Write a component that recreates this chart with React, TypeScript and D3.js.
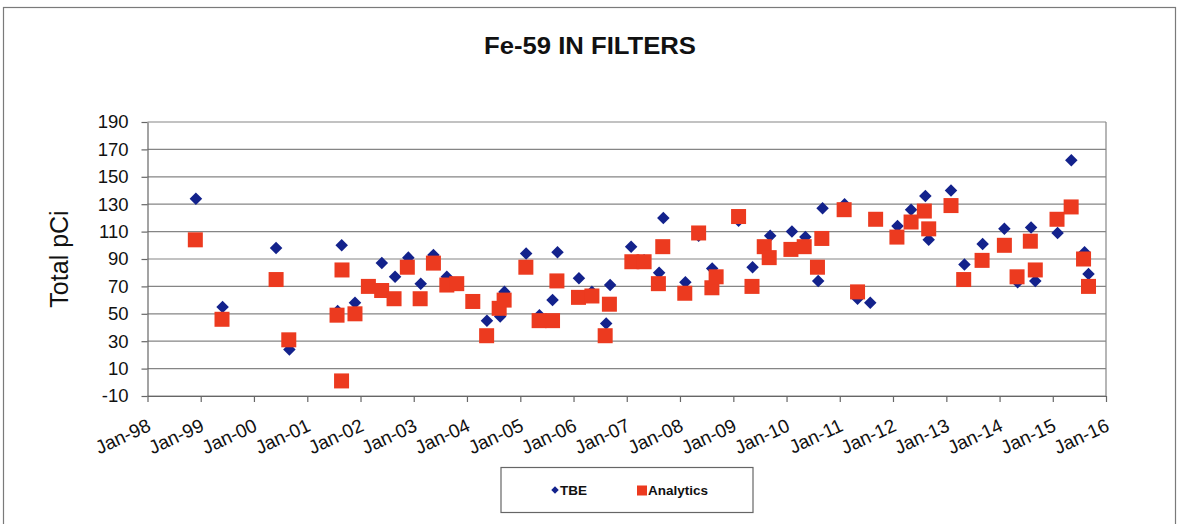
import { useEffect, useRef } from "react";
import * as d3 from "d3";

const tbeDates = [
  "1998-11-29", "1999-05-31", "2000-06-01", "2000-08-31", "2001-07-28", "2001-08-25",
  "2001-11-24", "2002-05-27", "2002-08-26", "2002-11-25", "2003-02-18", "2003-05-16",
  "2003-08-16", "2004-05-17", "2004-08-16", "2004-09-14", "2005-02-10", "2005-05-12",
  "2005-08-10", "2005-09-13", "2006-02-07", "2006-05-07", "2006-08-13", "2006-09-09",
  "2007-01-31", "2007-04-30", "2007-08-11", "2007-09-09", "2008-02-07", "2008-05-08",
  "2008-08-09", "2009-02-06", "2009-05-13", "2009-09-11", "2010-02-07", "2010-05-10",
  "2010-08-06", "2010-09-05", "2011-02-03", "2011-05-03", "2011-07-29", "2012-02-01",
  "2012-05-04", "2012-08-10", "2012-09-02", "2013-02-02", "2013-05-05", "2013-09-07",
  "2014-02-03", "2014-05-05", "2014-08-05", "2014-09-03", "2015-02-03", "2015-05-08",
  "2015-08-07", "2015-09-03",
];
const tbeValues = [
  134, 55, 98, 24, 52, 100,
  58, 87, 77, 91, 72, 93,
  77, 45, 48, 66, 94, 49,
  60, 95, 76, 66, 43, 71,
  99, 89, 80, 120, 73, 107,
  83, 118, 84, 107, 110, 106,
  74, 127, 130, 61, 58, 114,
  126, 136, 104, 140, 86, 101,
  112, 73, 113, 74, 109, 162,
  95, 79,
];

const analyticsDates = [
  "1998-11-25", "1999-05-27", "2000-06-01", "2000-08-27", "2001-07-24", "2001-08-27",
  "2001-08-24", "2001-11-24", "2002-02-24", "2002-05-26", "2002-08-19", "2002-11-18",
  "2003-02-14", "2003-05-16", "2003-08-16", "2003-10-23", "2004-02-10", "2004-05-15",
  "2004-08-09", "2004-09-12", "2005-02-08", "2005-05-10", "2005-08-10", "2005-09-09",
  "2006-02-04", "2006-05-07", "2006-08-06", "2006-09-04", "2007-02-05", "2007-04-30",
  "2007-08-06", "2007-09-05", "2008-02-03", "2008-05-08", "2008-08-07", "2008-09-05",
  "2009-02-06", "2009-05-09", "2009-08-01", "2009-09-04", "2010-01-31", "2010-05-02",
  "2010-08-01", "2010-08-31", "2011-01-31", "2011-05-03", "2011-09-04", "2012-01-28",
  "2012-05-04", "2012-08-03", "2012-09-02", "2013-02-02", "2013-04-30", "2013-09-03",
  "2014-02-03", "2014-05-01", "2014-07-31", "2014-09-03", "2015-01-30", "2015-05-07",
  "2015-07-31", "2015-09-03",
];
const analyticsValues = [
  104, 46, 75, 31, 49, 82,
  1, 50, 70, 67, 61, 84,
  61, 87, 71, 72, 59, 34,
  54, 60, 84, 45, 45, 74,
  62, 63, 34, 57, 88, 88,
  72, 99, 65, 109, 69, 77,
  121, 70, 99, 91, 97, 99,
  84, 105, 126, 66, 119, 106,
  117, 125, 112, 129, 75, 89,
  100, 77, 103, 82, 119, 128,
  90, 70,
];

const yTicks = [-10, 10, 30, 50, 70, 90, 110, 130, 150, 170, 190];
const xTickYears = d3.range(1998, 2017);

const W = 1178;
const H = 524;
const font = "Arial, 'Liberation Sans', sans-serif";

export default function App() {
  const ref = useRef<SVGSVGElement>(null);

  useEffect(() => {
    if (!ref.current) return;
    const svg = d3.select(ref.current);
    svg.selectAll("*").remove();

    const left = 147.5, right = 1106, top = 122, bottom = 396;
    const parse = d3.timeParse("%Y-%m-%d");

    const x = d3
      .scaleTime()
      .domain([new Date(1998, 0, 1), new Date(2016, 0, 1)])
      .range([left, right]);
    const y = d3.scaleLinear().domain([-10, 190]).range([bottom, top]);

    // outer frame
    svg.append("rect")
      .attr("x", 3.5).attr("y", 7.5)
      .attr("width", 1172).attr("height", 600)
      .attr("fill", "white").attr("stroke", "#7a7a7a").attr("stroke-width", 1.2);

    // title
    svg.append("text")
      .attr("x", 590).attr("y", 54)
      .attr("text-anchor", "middle")
      .attr("font-family", font).attr("font-weight", "bold").attr("font-size", 23)
      .attr("textLength", 212).attr("lengthAdjust", "spacingAndGlyphs")
      .attr("fill", "#111")
      .text("Fe-59 IN FILTERS");

    // gridlines
    svg.append("g")
      .selectAll("line")
      .data(yTicks)
      .join("line")
      .attr("x1", left).attr("x2", right)
      .attr("y1", (d) => y(d)).attr("y2", (d) => y(d))
      .attr("stroke", "#858585").attr("stroke-width", 1.2);

    // plot border right
    svg.append("line")
      .attr("x1", right).attr("x2", right).attr("y1", top).attr("y2", bottom)
      .attr("stroke", "#858585").attr("stroke-width", 1.2);

    // y axis
    const yAxis = svg.append("g")
      .attr("transform", `translate(${left},0)`)
      .call(
        d3.axisLeft(y)
          .tickValues(yTicks)
          .tickFormat((d) => String(d))
          .tickSize(6).tickPadding(13).tickSizeOuter(0)
      );
    yAxis.select(".domain").attr("stroke", "#666").attr("stroke-width", 1.2);
    yAxis.selectAll(".tick line").attr("stroke", "#666").attr("stroke-width", 1.2);
    yAxis.selectAll("text")
      .attr("font-family", font).attr("font-size", 18.5).attr("fill", "#111");

    // x axis
    const xAxis = svg.append("g")
      .attr("transform", `translate(0,${bottom})`)
      .call(
        d3.axisBottom(x)
          .tickValues(xTickYears.map((yr) => new Date(yr, 0, 1)))
          .tickFormat((d) => d3.timeFormat("Jan-%y")(d as Date))
          .tickSize(6).tickSizeOuter(0)
      );
    xAxis.select(".domain").attr("stroke", "#666").attr("stroke-width", 1.2);
    xAxis.selectAll(".tick line").attr("stroke", "#666").attr("stroke-width", 1.2);
    xAxis.selectAll("text")
      .attr("font-family", font).attr("font-size", 19).attr("fill", "#111")
      .attr("text-anchor", "end")
      .attr("dy", null)
      .attr("y", 0)
      .attr("transform", "translate(4,34) rotate(-25)");

    // y label
    svg.append("text")
      .attr("transform", `translate(68,${(top + bottom) / 2}) rotate(-90)`)
      .attr("text-anchor", "middle")
      .attr("font-family", font).attr("font-size", 25).attr("fill", "#111")
      .text("Total pCi");

    // TBE diamonds
    const diamond = d3.symbol().type(d3.symbolDiamond2).size(100);
    svg.append("g")
      .selectAll("path")
      .data(tbeDates.map((d, i) => ({ date: parse(d)!, value: tbeValues[i] })))
      .join("path")
      .attr("d", diamond)
      .attr("transform", (d) => `translate(${x(d.date)},${y(d.value)})`)
      .attr("fill", "#13228c");

    // Analytics squares
    const s = 15;
    svg.append("g")
      .selectAll("rect")
      .data(analyticsDates.map((d, i) => ({ date: parse(d)!, value: analyticsValues[i] })))
      .join("rect")
      .attr("x", (d) => x(d.date) - s / 2)
      .attr("y", (d) => y(d.value) - s / 2)
      .attr("width", s).attr("height", s)
      .attr("fill", "#ec3a1f");

    // legend
    const lg = svg.append("g");
    lg.append("rect")
      .attr("x", 501).attr("y", 467.5).attr("width", 252).attr("height", 45)
      .attr("fill", "white").attr("stroke", "#666").attr("stroke-width", 1.2);
    lg.append("path")
      .attr("d", d3.symbol().type(d3.symbolDiamond2).size(36))
      .attr("transform", "translate(555,490)")
      .attr("fill", "#13228c");
    lg.append("text")
      .attr("x", 560).attr("y", 495)
      .attr("font-family", font).attr("font-weight", "bold").attr("font-size", 13.5)
      .attr("fill", "#111").text("TBE");
    lg.append("rect")
      .attr("x", 637).attr("y", 485.5).attr("width", 10).attr("height", 10)
      .attr("fill", "#ec3a1f");
    lg.append("text")
      .attr("x", 648).attr("y", 495)
      .attr("font-family", font).attr("font-weight", "bold").attr("font-size", 13.5)
      .attr("fill", "#111").text("Analytics");
  }, []);

  return (
    <svg
      ref={ref}
      width={W}
      height={H}
      style={{ position: "absolute", left: 0, top: 0, background: "white" }}
    />
  );
}
